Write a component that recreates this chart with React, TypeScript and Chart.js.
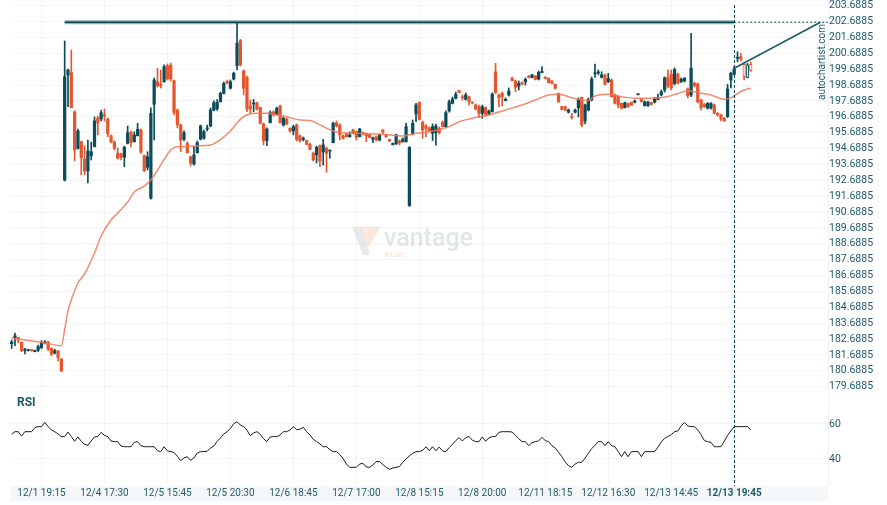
import React, { useEffect, useRef } from "react";
import { Chart, registerables } from "chart.js";

Chart.register(...registerables);

// ---------- data ----------
const opens = [
  182.40,182.76,182.78,182.49,181.98,181.97,182.01,181.90,182.00,182.15,
  182.45,182.49,182.11,181.80,181.94,181.44,192.71,199.33,199.47,197.01,
  194.71,195.12,194.03,193.28,194.24,194.81,196.62,196.55,196.81,196.55,
  195.50,195.12,194.39,194.35,194.14,195.02,195.72,195.12,195.50,195.86,
  194.24,193.51,191.56,197.48,198.90,198.73,198.90,199.91,199.95,198.97,
  197.12,196.18,195.27,195.02,194.18,193.72,194.43,195.29,195.34,195.92,
  196.11,197.12,197.20,197.64,198.17,198.90,198.49,199.07,199.91,201.49,
  199.58,199.18,197.37,197.50,197.58,197.29,196.24,195.19,196.32,197.01,
  196.85,197.37,196.17,196.55,195.97,195.80,196.18,195.48,195.27,195.19,
  194.96,194.39,194.29,194.87,194.49,194.71,194.54,195.06,196.32,196.18,
  195.48,195.61,195.44,195.86,195.75,195.44,195.69,195.65,195.55,195.27,
  195.44,195.23,195.86,195.55,195.27,194.93,194.98,195.17,195.12,195.12,
  191.09,195.61,196.87,197.61,196.34,196.13,196.00,195.65,195.69,195.97,
  196.34,196.07,197.06,197.54,197.86,198.34,197.94,197.79,197.96,197.61,
  197.43,197.33,196.91,197.27,196.85,197.01,199.53,198.07,198.17,197.71,
  198.07,199.12,198.95,198.63,198.84,198.90,199.26,199.16,199.26,199.07,
  199.48,199.18,199.12,198.95,198.74,198.17,197.33,197.33,196.98,196.69,
  196.98,197.26,197.91,196.43,197.12,197.75,199.40,199.45,199.18,199.33,
  198.91,199.01,198.07,197.96,197.54,197.27,197.54,197.61,197.61,198.08,
  197.81,197.39,197.39,197.58,197.61,197.79,198.07,198.38,199.20,199.37,
  198.79,199.37,198.90,198.95,198.44,198.07,198.80,198.76,197.75,197.48,
  197.23,197.25,197.44,196.91,196.81,196.60,196.70,199.01,199.37,200.38,
  200.48,200.00,199.18,200.00
];
const highs = [
  182.62,183.07,182.80,182.52,182.11,182.05,182.03,182.00,182.31,182.59,
  182.59,182.55,182.12,182.05,181.96,181.46,201.47,199.70,200.90,197.06,
  195.92,195.17,194.87,195.23,195.10,196.68,196.74,197.12,197.18,196.62,
  195.55,195.17,194.73,194.41,194.85,196.11,195.80,195.75,196.28,195.92,
  194.29,194.49,197.25,199.14,199.75,199.64,199.96,200.02,200.08,199.01,
  197.18,196.24,195.80,195.12,194.22,194.81,195.17,196.17,195.86,196.17,
  197.25,197.69,197.78,198.25,198.88,199.01,199.01,199.51,202.65,201.57,
  199.64,199.26,197.75,197.79,197.62,197.31,196.30,195.99,197.06,197.06,
  197.31,197.43,196.68,196.62,195.99,196.17,196.24,195.55,195.42,195.23,
  195.04,194.47,194.85,194.92,195.27,194.79,194.60,196.36,196.43,196.24,
  195.55,195.67,195.75,195.92,195.80,195.97,195.73,195.67,195.61,195.42,
  195.48,195.61,195.89,195.58,195.29,195.04,195.61,195.23,195.36,196.28,
  194.81,196.49,197.54,197.62,196.43,196.18,196.05,196.24,196.24,196.05,
  196.43,197.06,197.75,197.94,198.25,198.38,198.07,198.19,198.00,197.62,
  197.50,197.43,197.43,197.31,197.12,198.19,200.06,198.13,198.25,197.88,
  198.51,199.20,199.01,198.95,198.88,199.14,199.29,199.36,199.29,199.58,
  199.86,199.23,199.14,198.98,198.76,198.19,197.37,197.37,197.18,196.91,
  197.18,197.88,197.94,197.50,197.88,199.20,200.02,199.64,199.53,199.39,
  199.43,199.07,198.13,198.00,197.56,197.62,197.56,197.62,197.75,198.13,
  197.84,197.69,197.66,197.62,197.91,198.13,198.38,199.20,199.64,199.64,
  199.77,199.45,199.14,199.17,198.51,201.95,198.88,198.82,197.81,197.53,
  197.59,197.59,197.50,196.96,196.87,196.65,198.74,199.51,199.89,200.79,
  200.69,200.08,200.05,200.14
];
const lows = [
  182.10,182.27,182.45,181.90,181.75,181.93,181.92,181.88,181.90,182.09,
  182.38,181.96,181.64,181.75,181.31,180.64,192.65,197.33,197.25,193.91,
  194.66,193.03,193.03,192.52,193.97,194.79,195.55,196.43,196.43,195.44,
  195.04,194.60,194.03,193.97,193.55,194.98,194.79,195.10,195.48,194.39,
  193.23,193.34,191.51,195.23,198.57,198.51,198.88,199.01,198.95,196.81,
  195.99,194.49,195.17,194.41,193.59,193.65,194.41,195.23,195.29,195.80,
  196.05,197.06,197.10,197.62,198.13,198.76,198.44,199.01,199.64,199.89,
  198.07,197.01,196.91,197.01,197.12,196.24,194.92,194.87,196.30,196.74,
  196.81,196.30,196.11,196.18,195.73,195.55,195.17,195.10,195.17,194.92,
  194.60,193.91,193.78,193.55,193.65,193.20,194.08,195.04,196.05,195.23,
  195.29,195.42,195.40,195.61,195.23,195.42,195.55,195.12,195.36,195.06,
  195.17,195.17,195.61,195.39,195.12,194.92,194.95,194.92,195.10,195.10,
  191.05,195.55,196.38,196.49,195.34,195.44,195.73,195.20,194.90,195.61,
  196.05,195.99,196.99,197.50,197.81,198.19,197.75,197.75,197.43,197.50,
  197.12,196.63,196.60,196.74,196.81,196.99,198.16,197.33,197.37,197.69,
  198.00,198.95,198.27,198.38,198.70,198.70,199.14,199.14,199.01,199.01,
  199.45,199.07,198.82,198.76,198.44,197.59,197.12,197.06,196.93,196.55,
  196.93,196.68,196.07,196.24,197.06,197.69,199.18,199.33,199.14,198.70,
  198.84,197.94,197.50,197.26,197.18,197.25,197.28,197.40,197.56,198.07,
  197.62,197.37,197.34,197.43,197.56,197.75,198.00,198.25,198.51,198.38,
  198.70,198.76,198.85,198.88,197.88,197.96,198.57,197.56,197.12,197.28,
  197.18,197.18,196.87,196.74,196.43,196.40,196.65,198.51,199.33,200.16,
  200.21,199.01,199.14,199.55
];
const closes = [
  182.50,182.90,182.63,181.96,182.00,182.02,181.97,181.98,182.21,182.46,
  182.47,182.07,181.75,181.96,181.52,180.68,199.22,199.64,197.27,194.60,
  195.80,194.10,193.28,194.54,194.49,196.43,196.30,196.95,196.74,195.61,
  195.12,194.71,194.08,194.16,194.77,195.69,195.08,195.55,195.90,194.46,
  193.30,194.18,196.91,199.01,198.63,198.66,199.85,199.09,199.07,196.97,
  196.18,195.23,195.69,194.43,193.76,194.29,195.06,196.11,195.75,195.99,
  197.12,197.58,197.60,198.17,198.80,198.85,198.90,199.43,201.32,199.96,
  198.49,197.18,197.18,197.56,197.16,196.28,195.19,195.92,196.95,196.81,
  197.23,196.32,196.60,196.24,195.80,196.07,195.27,195.19,195.29,194.96,
  194.64,193.97,194.77,193.91,194.92,194.39,194.60,196.28,196.11,195.55,
  195.34,195.44,195.55,195.65,195.40,195.92,195.61,195.48,195.40,195.37,
  195.23,195.55,195.75,195.44,195.19,195.02,195.55,195.06,195.29,196.07,
  194.77,196.28,197.44,196.53,195.86,195.97,195.82,196.07,196.11,195.69,
  196.07,196.95,197.64,197.81,198.11,198.21,197.89,198.07,197.64,197.56,
  197.18,196.91,197.33,196.81,197.06,198.13,198.21,197.89,197.96,197.79,
  198.32,198.97,198.55,198.80,198.76,199.05,199.18,199.33,199.05,199.49,
  199.54,199.12,198.84,198.80,198.49,197.64,197.16,197.12,197.12,196.65,
  197.12,197.79,196.18,197.44,197.79,199.07,199.46,199.50,199.33,198.74,
  199.10,197.96,197.54,197.43,197.23,197.58,197.33,197.43,197.69,198.11,
  197.64,197.64,197.61,197.48,197.86,197.92,198.27,199.14,198.63,198.51,
  199.67,198.80,199.05,199.12,198.02,199.75,198.65,197.64,197.27,197.33,
  197.54,197.52,196.91,196.81,196.55,196.43,198.44,199.43,199.70,200.40,
  200.33,199.22,199.96,199.60
];
const rsiValues = [
  54.1,55.6,55.6,53.1,55.6,55.6,55.6,57.9,58.5,58.5,
  60.9,58.5,56.6,55.6,54.3,52.8,52.8,55.4,52.9,50.1,
  52.6,50.1,48.4,47.8,50.3,52.6,52.8,55.2,53.5,52.8,
  50.3,49.9,49.9,47.4,47.0,47.0,47.0,49.5,49.9,47.6,
  47.0,47.0,47.0,47.0,44.7,44.2,47.0,44.6,44.2,43.6,
  41.5,39.0,40.6,41.3,39.2,40.6,43.4,44.2,44.2,44.4,
  46.3,47.4,50.1,52.0,54.3,55.6,57.5,60.2,61.3,59.4,
  58.5,56.4,53.3,54.9,55.6,54.1,51.6,49.9,52.6,52.8,
  52.8,53.7,55.6,55.6,56.6,58.5,56.6,57.1,58.1,55.6,
  53.7,51.2,49.9,48.6,47.0,47.0,45.3,44.2,44.2,42.5,
  40.2,37.1,35.2,35.2,35.2,37.1,37.5,35.4,35.2,36.6,
  38.5,38.5,36.8,35.2,34.1,34.8,35.2,35.6,38.1,40.0,
  41.7,43.2,44.2,44.2,44.9,47.0,44.7,47.0,44.7,46.8,
  44.6,44.2,46.5,48.4,50.5,52.2,50.3,52.2,52.8,50.7,
  49.9,49.9,52.6,50.1,52.0,52.8,52.8,55.2,55.6,55.6,
  55.6,55.4,53.5,51.6,49.9,49.9,47.6,49.3,49.9,50.3,
  52.4,50.5,49.9,47.6,46.3,43.8,41.3,38.3,36.2,35.2,
  37.1,38.1,38.1,40.4,43.2,45.9,47.8,49.9,49.9,47.6,
  49.9,47.6,47.0,44.2,41.3,44.2,41.3,44.2,44.2,44.2,
  41.3,44.2,44.2,44.2,44.2,46.8,49.7,51.8,52.8,53.9,
  55.6,56.0,58.9,60.9,58.9,58.5,58.5,56.6,53.9,50.5,
  49.9,49.5,47.0,47.0,47.0,50.1,53.5,56.0,58.5,58.5,
  58.5,58.5,58.5,56.6
];
const maIdx = [
  0,5,10,15,16,17,18,20,22,25,27,30,32,35,37,40,42,45,48,50,
  53,57,60,63,66,68,70,74,77,80,83,87,90,93,97,100,104,112,118,122,
  126,132,135,139,144,149,154,158,162,165,168,171,174,176,180,184,188,194,198,201,
  204,207,211,215,217,219,221,223
];
const maVal = [
  182.76,182.60,182.44,182.27,183.30,184.46,185.15,186.22,186.79,188.11,
  189.18,190.19,190.63,191.32,191.95,192.33,192.71,193.66,194.60,194.81,
  194.82,194.87,194.92,195.26,195.80,196.30,196.71,196.91,196.91,196.81,
  196.70,196.49,196.46,196.18,195.80,195.69,195.65,195.59,195.48,195.65,
  195.75,196.07,196.38,196.60,196.81,197.12,197.44,197.75,198.07,198.11,
  197.96,197.79,197.72,198.00,198.11,197.96,197.86,197.86,197.97,198.16,
  198.34,198.21,198.07,197.79,197.88,198.16,198.38,198.49
];
const tickIdx = [9, 28, 47, 66, 85, 104, 123, 142, 161, 180, 199, 218];
const tickLabels = [
  "12/1 19:15", "12/4 17:30", "12/5 15:45", "12/5 20:30", "12/6 18:45", "12/7 17:00",
  "12/8 15:15", "12/8 20:00", "12/11 18:15", "12/12 16:30", "12/13 14:45", "12/13 19:45"
];
const priceTicks = [
  179.6885, 180.6885, 181.6885, 182.6885, 183.6885, 184.6885, 185.6885, 186.6885,
  187.6885, 188.6885, 189.6885, 190.6885, 191.6885, 192.6885, 193.6885, 194.6885,
  195.6885, 196.6885, 197.6885, 198.6885, 199.6885, 200.6885, 201.6885, 202.6885, 203.6885
];
const rsiTicks = [40, 60];
const resistance = 202.65;
const resistanceStart = 16;
const signalIdx = 218;
const projectionFrom = 199.75;
const projectionToIdx = 244;
const hollowFrom = 221;

// ---------- styling ----------
const UP = "#0c4b5a";
const DOWN = "#e4572e";
const TEXT = "#1d5a6a";
const FONT = "Roboto, 'Liberation Sans', sans-serif";
const X_MIN = -0.5;
const X_MAX = 246.3;
const GRID = "rgba(0,0,0,0.045)";

export default function App() {
  const mainRef = useRef<HTMLCanvasElement>(null);
  const rsiRef = useRef<HTMLCanvasElement>(null);

  useEffect(() => {
    const idx = opens.map((_, i) => i);
    const isUp = (i: number) => closes[i] >= opens[i];
    const col = (i: number) => (isUp(i) ? UP : DOWN);
    const setXTicks = (scale: any) => {
      scale.ticks = tickIdx.map((v) => ({ value: v }));
    };
    const zeroPad = (s: any) => {
      s.paddingTop = 0;
      s.paddingBottom = 0;
      s.paddingLeft = 0;
      s.paddingRight = 0;
    };

    const mainOverlay = {
      id: "mainOverlay",
      beforeDatasetsDraw(chart: any) {
        const ctx = chart.ctx;
        ctx.save();
        ctx.fillStyle = "rgba(185,195,198,0.35)";
        ctx.beginPath();
        ctx.moveTo(352, 227);
        ctx.lineTo(361, 227);
        ctx.lineTo(370, 255);
        ctx.lineTo(363, 255);
        ctx.closePath();
        ctx.fill();
        ctx.fillStyle = "rgba(242,175,140,0.3)";
        ctx.beginPath();
        ctx.moveTo(360, 227);
        ctx.lineTo(381, 227);
        ctx.lineTo(368, 248);
        ctx.closePath();
        ctx.fill();
        ctx.font = `500 25px ${FONT}`;
        ctx.fillStyle = "rgba(185,195,198,0.42)";
        ctx.textBaseline = "alphabetic";
        ctx.textAlign = "left";
        ctx.fillText("vantage", 384, 246);
        ctx.font = `bold 8px ${FONT}`;
        ctx.fillStyle = "rgba(242,175,140,0.35)";
        ctx.fillText("PLUS", 385, 257);
        ctx.restore();
      },
      afterDatasetsDraw(chart: any) {
        const ctx = chart.ctx;
        const x = chart.scales.x.getPixelForValue(signalIdx);
        ctx.save();
        ctx.strokeStyle = UP;
        ctx.lineWidth = 1;
        ctx.setLineDash([3, 2]);
        ctx.beginPath();
        ctx.moveTo(Math.round(x) + 0.5, 5);
        ctx.lineTo(Math.round(x) + 0.5, chart.chartArea.bottom);
        ctx.stroke();
        ctx.restore();
        ctx.save();
        ctx.translate(822, 62);
        ctx.rotate(-Math.PI / 2);
        ctx.font = `10px ${FONT}`;
        ctx.fillStyle = TEXT;
        ctx.textAlign = "center";
        ctx.textBaseline = "middle";
        ctx.fillText("autochartist.com", 0, 0);
        ctx.restore();
      },
    };

    const rsiOverlay = {
      id: "rsiOverlay",
      beforeDraw(chart: any) {
        const { left, right, bottom } = chart.chartArea;
        const ctx = chart.ctx;
        ctx.save();
        ctx.fillStyle = "#f6f7f8";
        ctx.fillRect(left, bottom + 1, right - left, 15);
        ctx.restore();
      },
      afterDatasetsDraw(chart: any) {
        const ctx = chart.ctx;
        const x = chart.scales.x.getPixelForValue(signalIdx);
        ctx.save();
        ctx.strokeStyle = UP;
        ctx.lineWidth = 1;
        ctx.setLineDash([3, 2]);
        ctx.beginPath();
        ctx.moveTo(Math.round(x) + 0.5, 0);
        ctx.lineTo(Math.round(x) + 0.5, chart.chartArea.bottom + 1);
        ctx.stroke();
        ctx.restore();
        ctx.save();
        ctx.font = `bold 12px ${FONT}`;
        ctx.fillStyle = TEXT;
        ctx.textBaseline = "middle";
        ctx.fillText("RSI", 17, 22.5);
        ctx.restore();
      },
    };

    const main = new Chart(mainRef.current!, {
      type: "bar",
      data: {
        datasets: [
          {
            type: "line",
            data: maIdx.map((x, k) => ({ x, y: maVal[k] })),
            borderColor: "rgba(238,120,85,0.85)",
            borderWidth: 1.5,
            pointRadius: 0,
            cubicInterpolationMode: "monotone",
            order: 0,
          } as any,
          {
            type: "line",
            data: [
              { x: resistanceStart, y: resistance },
              { x: signalIdx, y: resistance },
            ],
            borderColor: "rgba(20,80,95,0.45)",
            borderWidth: 4,
            pointRadius: 0,
            order: 0,
          } as any,
          {
            type: "line",
            data: [
              { x: resistanceStart, y: resistance },
              { x: signalIdx, y: resistance },
            ],
            borderColor: "#0b3d4a",
            borderWidth: 1.6,
            pointRadius: 0,
            order: 0,
          } as any,
          {
            type: "line",
            data: [
              { x: signalIdx, y: resistance },
              { x: X_MAX, y: resistance },
            ],
            borderColor: UP,
            borderWidth: 1,
            borderDash: [2, 2],
            pointRadius: 0,
            order: 0,
          } as any,
          {
            type: "line",
            data: [
              { x: signalIdx, y: projectionFrom },
              { x: projectionToIdx, y: resistance },
            ],
            borderColor: "#1d5a6a",
            borderWidth: 1.5,
            pointRadius: 0,
            order: 0,
          } as any,
          {
            type: "bar",
            data: idx.map((i) => ({
              x: i,
              y: [Math.min(opens[i], closes[i]), Math.max(opens[i], closes[i])],
            })),
            backgroundColor: (c: any) => (c.dataIndex >= hollowFrom ? "#ffffff" : col(c.dataIndex)),
            borderColor: (c: any) => col(c.dataIndex),
            borderWidth: (c: any) => (c.dataIndex >= hollowFrom ? 1 : 0),
            borderSkipped: false,
            barThickness: 2.6,
            minBarLength: 1,
            grouped: false,
            order: 1,
          } as any,
          {
            type: "bar",
            data: idx.map((i) => ({ x: i, y: [lows[i], highs[i]] })),
            backgroundColor: (c: any) => col(c.dataIndex),
            barThickness: 1,
            minBarLength: 1,
            grouped: false,
            order: 2,
          } as any,
        ],
      },
      options: {
        responsive: false,
        animation: false,
        events: [],
        layout: { padding: { left: 10, top: 0, right: 0, bottom: 8 } },
        plugins: { legend: { display: false }, tooltip: { enabled: false } },
        scales: {
          x: {
            type: "linear",
            offset: false,
            min: X_MIN,
            max: X_MAX,
            afterBuildTicks: setXTicks,
            afterFit: (s: any) => {
              s.height = 0;
              zeroPad(s);
            },
            ticks: { display: false },
            grid: { color: GRID, drawTicks: false, offset: false },
            border: { display: false },
          },
          y: {
            position: "right",
            min: 179.48,
            max: 204.05,
            afterBuildTicks: (s: any) => {
              s.ticks = priceTicks.map((v) => ({ value: v }));
            },
            afterFit: (s: any) => {
              s.width = 59;
              zeroPad(s);
            },
            ticks: {
              padding: 1,
              color: TEXT,
              font: { family: FONT, size: 10.5 },
              callback: (v: any) => Number(v).toFixed(4),
            },
            grid: { color: GRID, drawTicks: false },
            border: { display: true, color: "rgba(0,0,0,0.06)" },
          },
        },
      } as any,
      plugins: [mainOverlay],
    });

    const rsi = new Chart(rsiRef.current!, {
      type: "line",
      data: {
        datasets: [
          {
            data: idx.map((i) => ({ x: i, y: rsiValues[i] })),
            borderColor: "#1a1a1a",
            borderWidth: 1,
            pointRadius: 0,
            tension: 0,
          },
        ],
      },
      options: {
        responsive: false,
        animation: false,
        events: [],
        layout: { padding: { left: 10, top: 12, right: 0, bottom: 0 } },
        plugins: { legend: { display: false }, tooltip: { enabled: false } },
        scales: {
          x: {
            type: "linear",
            offset: false,
            min: X_MIN,
            max: X_MAX,
            afterBuildTicks: setXTicks,
            afterFit: (s: any) => {
              s.height = 20;
              zeroPad(s);
            },
            ticks: {
              padding: 2,
              color: TEXT,
              maxRotation: 0,
              autoSkip: false,
              font: (c: any) => ({
                family: FONT,
                size: 10,
                weight: c.tick && c.tick.value === signalIdx ? "bold" : "normal",
              }),
              callback: (v: any) => {
                const k = tickIdx.indexOf(Number(v));
                return k >= 0 ? tickLabels[k] : "";
              },
            },
            grid: { color: GRID, drawTicks: false },
            border: { display: false },
          },
          y: {
            position: "right",
            min: 25.1,
            max: 78.3,
            afterBuildTicks: (s: any) => {
              s.ticks = rsiTicks.map((v) => ({ value: v }));
            },
            afterFit: (s: any) => {
              s.width = 59;
              zeroPad(s);
            },
            ticks: {
              padding: 1,
              color: TEXT,
              font: { family: FONT, size: 10.5 },
            },
            grid: { color: GRID, drawTicks: false },
            border: { display: true, color: "rgba(0,0,0,0.06)" },
          },
        },
      } as any,
      plugins: [rsiOverlay],
    });

    return () => {
      main.destroy();
      rsi.destroy();
    };
  }, []);

  return (
    <div style={{ position: "fixed", left: 0, top: 0, width: 887, height: 505, background: "#ffffff" }}>
      <canvas ref={mainRef} width={887} height={398} style={{ position: "absolute", left: 0, top: 0 }} />
      <canvas ref={rsiRef} width={887} height={125} style={{ position: "absolute", left: 0, top: 380 }} />
    </div>
  );
}
